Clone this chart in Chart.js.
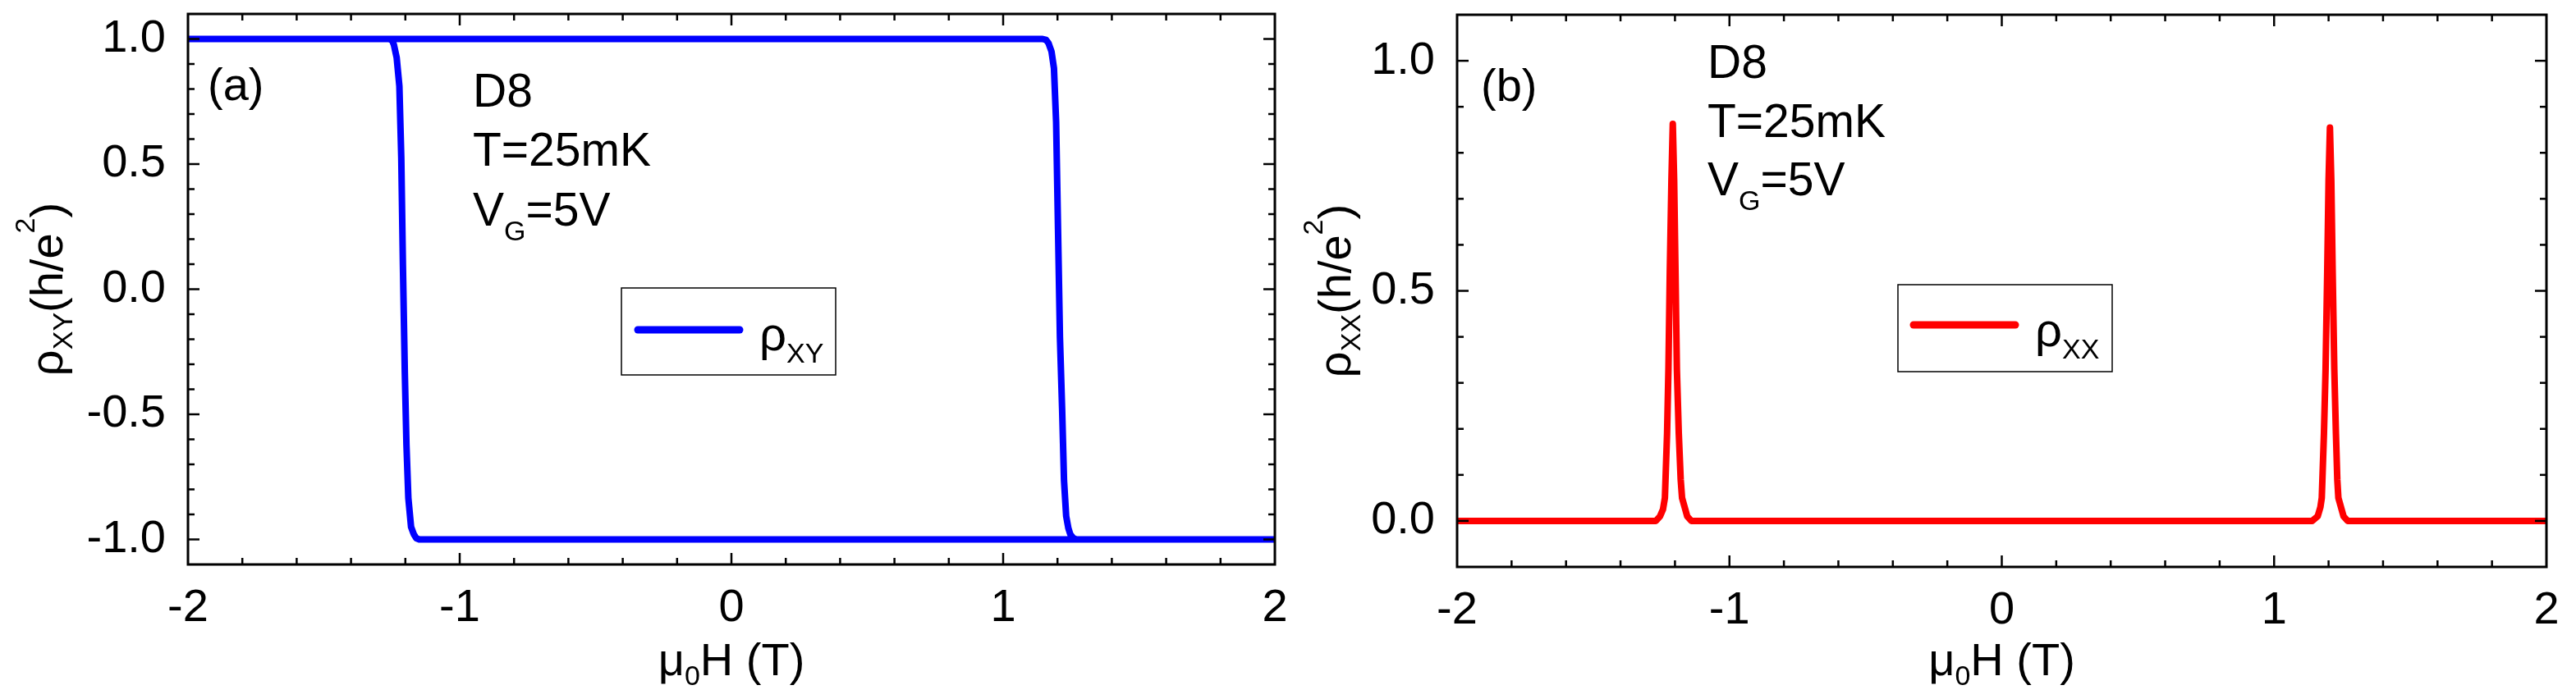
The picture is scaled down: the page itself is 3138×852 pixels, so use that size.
<!DOCTYPE html>
<html>
<head>
<meta charset="utf-8">
<script src="https://cdn.jsdelivr.net/npm/chart.js@4.4.1/dist/chart.umd.min.js"></script>
<style>
  html, body { margin: 0; padding: 0; background: #fff; }
  #marco { position: relative; width: 3138px; height: 852px; }
  canvas { position: absolute; top: 0; }
</style>
</head>
<body>
<div id="marco">
  <canvas id="graficoA" width="1569" height="852" style="left:0"></canvas>
  <canvas id="graficoB" width="1569" height="852" style="left:1569px"></canvas>
</div>
<script>
// rho_xy: barrido de -2 T a 2 T y vuelta de 2 T a -2 T
const campoXY = [-2, 1.145, 1.158, 1.167, 1.178, 1.187, 1.195, 1.202, 1.209, 1.217, 1.224, 1.232, 1.24, 1.247, 1.258, 1.27, 2,
                 2, -1.149, -1.16, -1.169, -1.179, -1.189, -1.196, -1.202, -1.209, -1.215, -1.222, -1.232, -1.242, -1.249, -1.26, -2]
const rhoXY = [1, 1, 0.996, 0.983, 0.95, 0.883, 0.668, 0.238, -0.191, -0.477, -0.764, -0.907, -0.955, -0.979, -0.995, -1, -1,
               -1, -1, -0.995, -0.979, -0.95, -0.835, -0.621, -0.334, 0.095, 0.525, 0.811, 0.926, 0.976, 0.995, 1, 1]

// rho_xx: picos en los campos coercitivos
const campoXX = [-2, -1.27, -1.255, -1.244, -1.237, -1.229, -1.224, -1.219, -1.213, -1.208, -1.203, -1.198, -1.193, -1.186, -1.179, -1.174, -1.155, -1.14,
                 1.14, 1.16, 1.17, 1.175, 1.183, 1.189, 1.195, 1.2, 1.205, 1.21, 1.215, 1.221, 1.227, 1.232, 1.236, 1.255, 1.27, 2]
const rhoXX = [0, 0, 0.01, 0.025, 0.05, 0.19, 0.33, 0.54, 0.74, 0.863, 0.74, 0.54, 0.33, 0.19, 0.09, 0.05, 0.01, 0,
               0, 0.01, 0.03, 0.05, 0.19, 0.33, 0.54, 0.74, 0.855, 0.74, 0.54, 0.33, 0.19, 0.09, 0.05, 0.01, 0, 0]

const ticksX = [-2, -1, 0, 1, 2]
const ticksYa = [-1.0, -0.5, 0.0, 0.5, 1.0]
const ticksYb = [0.0, 0.5, 1.0]

const fuente = '"Liberation Sans", Arial, sans-serif'

// escribe trozos de texto seguidos: [texto, tamaño, desplazamiento vertical]
const escribir = (ctx, partes, x, y, centrado) => {
    let ancho = 0
    partes.forEach(([t, s]) => {
        ctx.font = `${s}px ${fuente}`
        ancho += ctx.measureText(t).width
    })
    let cx = centrado ? x - ancho / 2 : x
    partes.forEach(([t, s, dy]) => {
        ctx.font = `${s}px ${fuente}`
        ctx.fillText(t, cx, y + (dy || 0))
        cx += ctx.measureText(t).width
    })
}

const decorado = {
    id: 'decorado',
    afterDatasetsDraw(chart, args, o) {
        const { ctx, chartArea: a, scales: { x, y } } = chart
        ctx.save()
        ctx.strokeStyle = '#000'
        ctx.fillStyle = '#000'
        ctx.lineCap = 'butt'

        const raya = (x1, y1, x2, y2) => {
            ctx.beginPath(); ctx.moveTo(x1, y1); ctx.lineTo(x2, y2); ctx.stroke()
        }
        ctx.lineWidth = 2.5
        for (let i = -9; i <= 9; i++) {
            const px = x.getPixelForValue(i / 5)
            const l = i % 5 === 0 ? 14 : 8
            raya(px, a.bottom, px, a.bottom - l)
            raya(px, a.top, px, a.top + l)
        }
        for (let i = Math.round(y.min * 10) + 1; i < Math.round(y.max * 10); i++) {
            const py = y.getPixelForValue(i / 10)
            const l = i % 5 === 0 ? 14 : 8
            raya(a.left, py, a.left + l, py)
            raya(a.right, py, a.right - l, py)
        }
        ctx.lineWidth = 3
        ctx.strokeRect(a.left, a.top, a.right - a.left, a.bottom - a.top)

        // leyenda
        const L = o.leyenda
        ctx.lineWidth = 1.5
        ctx.strokeRect(L.caja[0], L.caja[1], L.caja[2] - L.caja[0], L.caja[3] - L.caja[1])
        ctx.strokeStyle = o.color
        ctx.lineWidth = 9
        ctx.lineCap = 'round'
        raya(L.linea[0], L.linea[2], L.linea[1], L.linea[2])
        ctx.textAlign = 'left'
        ctx.textBaseline = 'alphabetic'
        escribir(ctx, [['ρ', 58], [L.sub, 34, 15]], L.texto[0], L.texto[1])

        // textos del panel
        o.textos.forEach(([partes, px, py]) => escribir(ctx, partes, px, py))

        // titulos de ejes
        escribir(ctx, [['μ', 56], ['0', 34, 12], ['H (T)', 56]], (a.left + a.right) / 2, o.tituloX, true)
        ctx.translate(o.tituloY, (a.top + a.bottom) / 2)
        ctx.rotate(-Math.PI / 2)
        escribir(ctx, [['ρ', 56], [o.subY, 34, 12], ['(h/e', 56], ['2', 34, -34], [')', 56]], 0, 0, true)
        ctx.restore()
    }
}

const crearGrafico = (lienzo, campo, rho, color, ticksY, yMin, yMax, ajuste, extra) => {
    return new Chart(lienzo.getContext('2d'), {
        type: 'line',
        data: {
            datasets: [{
                data: campo.map((h, i) => ({ x: h, y: rho[i] })),
                borderColor: color,
                borderWidth: 8,
                pointRadius: 0,
                tension: 0,
                borderJoinStyle: 'round',
                borderCapStyle: 'round'
            }]
        },
        options: {
            responsive: false,
            devicePixelRatio: 1,
            animation: false,
            events: [],
            layout: { padding: { left: 0, right: ajuste.derecha, top: ajuste.arriba, bottom: 0 } },
            plugins: { legend: { display: false }, tooltip: { enabled: false }, decorado: extra },
            scales: {
                x: {
                    type: 'linear', min: -2, max: 2,
                    grid: { display: false }, border: { display: false },
                    afterBuildTicks: s => { s.ticks = ticksX.map(v => ({ value: v })) },
                    afterFit: s => { s.height = ajuste.altoX; s.paddingLeft = 0; s.paddingRight = 0 },
                    ticks: {
                        padding: 12, color: '#000', maxRotation: 0, autoSkip: false,
                        font: { family: fuente, size: 56 },
                        callback: v => String(v)
                    }
                },
                y: {
                    type: 'linear', min: yMin, max: yMax,
                    grid: { display: false }, border: { display: false },
                    afterBuildTicks: s => { s.ticks = ticksY.map(v => ({ value: v })) },
                    afterFit: s => { s.width = ajuste.anchoY; s.paddingTop = 0; s.paddingBottom = 0 },
                    ticks: {
                        padding: 19, color: '#000', autoSkip: false,
                        font: { family: fuente, size: 56 },
                        callback: v => v.toFixed(1)
                    }
                }
            }
        },
        plugins: [decorado]
    })
}

crearGrafico(document.getElementById('graficoA'), campoXY, rhoXY, '#0000ff', ticksYa, -1.1, 1.1,
    { derecha: 16, arriba: 17, altoX: 164, anchoY: 229 },
    {
        color: '#0000ff', subY: 'XY', tituloX: 823, tituloY: 76,
        leyenda: { caja: [757, 351, 1018, 457], linea: [777, 901, 402], texto: [925, 427], sub: 'XY' },
        textos: [
            [[['(a)', 56]], 253, 122],
            [[['D8', 57]], 576, 130],
            [[['T=25mK', 57]], 576, 202],
            [[['V', 57], ['G', 34, 18], ['=5V', 57]], 576, 275]
        ]
    })

crearGrafico(document.getElementById('graficoB'), campoXX, rhoXX, '#ff0000', ticksYb, -0.1, 1.1,
    { derecha: 36, arriba: 18, altoX: 161, anchoY: 206 },
    {
        color: '#ff0000', subY: 'XX', tituloX: 823, tituloY: 76,
        leyenda: { caja: [743, 347, 1004, 453], linea: [762, 886, 396], texto: [910, 422], sub: 'XX' },
        textos: [
            [[['(b)', 56]], 235, 123],
            [[['D8', 57]], 511, 95],
            [[['T=25mK', 57]], 511, 167],
            [[['V', 57], ['G', 34, 18], ['=5V', 57]], 511, 238]
        ]
    })
</script>
</body>
</html>
